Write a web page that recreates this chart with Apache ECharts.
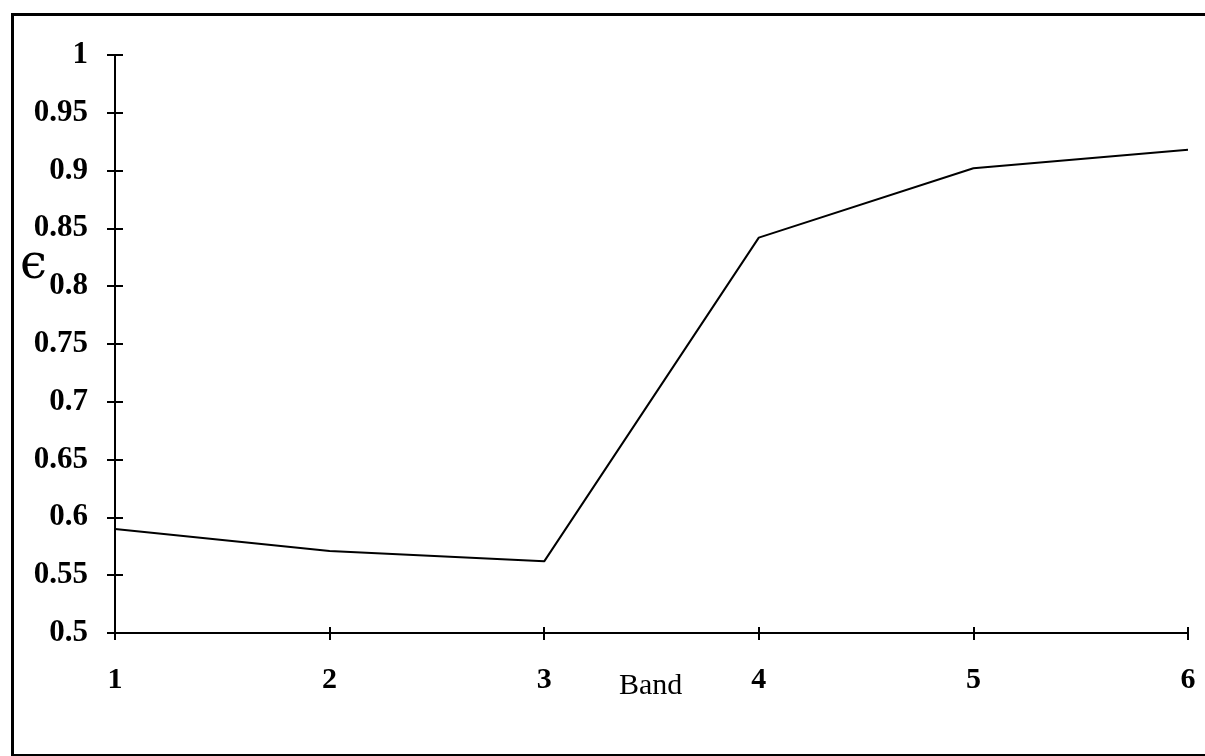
<!DOCTYPE html>
<html>
<head>
<meta charset="utf-8">
<script src="https://cdn.jsdelivr.net/npm/echarts@6/dist/echarts.min.js"></script>
<style>html,body{margin:0;padding:0;background:#fff;}#c{width:1205px;height:756px;}</style>
</head>
<body>
<div id="c"></div>
<script>
const bands = ['1', '2', '3', '4', '5', '6'];
const emissivity = [0.59, 0.571, 0.562, 0.842, 0.902, 0.918];
const yMin = 0.5, yMax = 1, yStep = 0.05;

const chart = echarts.init(document.getElementById('c'));
const font = '"Liberation Serif", "Times New Roman", serif';
const grid = { left: 115, right: 17, top: 55, bottom: 123 };
const baseX = {
  type: 'category', data: bands, boundaryGap: false,
  axisLine: { show: true, lineStyle: { color: '#000', width: 2 } },
  axisTick: { show: true, length: 7, lineStyle: { color: '#000', width: 2 } },
  splitLine: { show: false }
};
const baseY = {
  type: 'value', min: yMin, max: yMax, interval: yStep,
  axisLine: { show: true, lineStyle: { color: '#000', width: 2 } },
  axisTick: { show: true, length: 8, lineStyle: { color: '#000', width: 2 } },
  splitLine: { show: false }
};
chart.setOption({
  animation: false,
  backgroundColor: '#fff',
  grid: grid,
  xAxis: [
    Object.assign({}, baseX, {
      axisLabel: { color: '#000', fontFamily: font, fontWeight: 'bold', fontSize: 30, margin: 32 }
    }),
    Object.assign({}, baseX, {
      position: 'bottom', axisLine: { show: false },
      axisTick: { show: true, inside: true, length: 6, lineStyle: { color: '#000', width: 2 } },
      axisLabel: { show: false }
    })
  ],
  yAxis: [
    Object.assign({}, baseY, {
      axisLabel: {
        color: '#000', fontFamily: font, fontWeight: 'bold', fontSize: 31, margin: 27,
        formatter: v => String(parseFloat(v.toFixed(2)))
      }
    }),
    Object.assign({}, baseY, {
      position: 'left', axisLine: { show: false },
      axisTick: { show: true, inside: true, length: 8, lineStyle: { color: '#000', width: 2 } },
      axisLabel: { show: false }
    })
  ],
  graphic: [
    {
      type: 'rect', left: 10, top: 12, silent: true,
      shape: { width: 1205, height: 741 },
      style: { fill: null, stroke: '#000', lineWidth: 3 }
    },
    {
      type: 'text', left: 619, top: 671,
      style: { text: 'Band', font: '30px ' + font, fill: '#000' }
    },
    {
      type: 'text', left: 20, top: 242,
      style: { text: 'ϵ', font: '48px "DejaVu Serif", serif', fill: '#000' }
    }
  ],
  series: [{
    type: 'line', data: emissivity, xAxisIndex: 0, yAxisIndex: 0,
    symbol: 'none', lineStyle: { color: '#000', width: 2 }
  }]
});
</script>
</body>
</html>
